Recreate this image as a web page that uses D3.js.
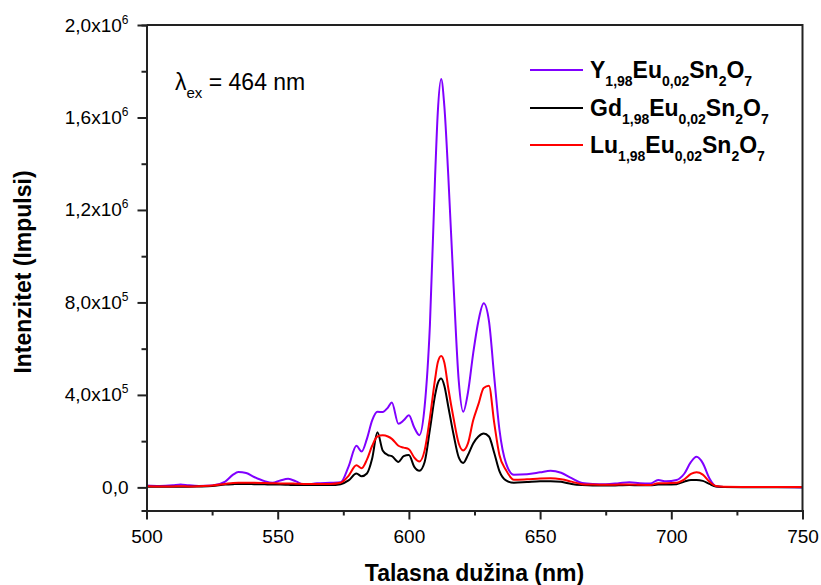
<!DOCTYPE html>
<html><head><meta charset="utf-8">
<script src="https://cdn.jsdelivr.net/npm/d3@7"></script>
<style>body{margin:0;background:#fff} svg{display:block;font-family:Arial,"Liberation Sans",sans-serif}</style>
</head><body>
<svg id="c" width="821" height="585"></svg>
<script>
// Wavelength grid (nm)
const wavelength = [500,505,510,513,516,520,525,530,533,535,538,541,545,548,551,554,557,560,565,570,574,577,580,582,584,586,588,590,592,593.5,596,598,600,602,604,606,608,610,611,612.3,613.5,615,617,619,620.7,622.5,624.5,626.5,628.5,630.5,632.5,634.5,637,640,645,650,654,658,662,666,670,675,680,684,688,692,695,698,702,705,707.5,709.6,712,714.5,717,720,730,740,750];
// Intensities (impulses)
const yEuSn = [8000,6000,9000,13000,9000,6000,8000,25000,55000,66000,62000,45000,27000,20000,30000,37000,26000,12000,18000,20000,22000,90000,180000,155000,210000,290000,327000,326000,345000,367000,275000,290000,312000,260000,226000,350000,700000,1350000,1620000,1766000,1650000,1350000,880000,460000,327000,410000,580000,720000,796000,720000,480000,250000,105000,55000,57000,65000,72000,63000,40000,19000,15000,14000,18000,22000,18000,17000,32000,26000,32000,60000,110000,132000,105000,40000,5000,2000,2000,2000,0];
const gdEuSn = [3000,3000,3000,3000,3000,4000,6000,12000,14000,15000,15000,14000,13000,12000,12000,11000,10000,10000,10000,10000,14000,30000,60000,48000,60000,125000,238000,160000,140000,135000,110000,135000,140000,90000,72000,110000,250000,400000,450000,471000,440000,350000,230000,130000,106000,140000,190000,220000,233000,220000,150000,70000,30000,20000,23000,26000,27000,24000,15000,10000,8000,8000,9000,10000,9000,9000,12000,12000,14000,25000,32000,32000,28000,15000,4000,2000,1000,1000,1000];
const luEuSn = [5000,4000,4000,5000,4000,5000,8000,15000,19000,20000,20000,20000,19000,18000,17000,17000,16000,15000,15000,15000,20000,50000,96000,83000,120000,180000,220000,225000,220000,210000,180000,172000,165000,130000,112000,160000,300000,470000,540000,568000,540000,430000,300000,190000,160000,190000,290000,360000,430000,440000,280000,140000,75000,33000,35000,38000,39000,35000,25000,14000,12000,11000,12000,13000,11000,10000,18000,18000,20000,35000,58000,65000,55000,25000,6000,3000,2000,2000,2000];

const xTicks = [500,550,600,650,700,750];
const xMinorTicks = [525,575,625,675,725];
const yTicks = [0,4e5,8e5,1.2e6,1.6e6,2.0e6];
const yTickMantissa = ["0,0","4,0x10","8,0x10","1,2x10","1,6x10","2,0x10"];
const yTickExponent = ["","5","5","6","6","6"];
const yMinorTicks = [2e5,6e5,1.0e6,1.4e6,1.8e6];

const legendLabels = [
  [["Y",0],["1,98",1],["Eu",0],["0,02",1],["Sn",0],["2",1],["O",0],["7",1]],
  [["Gd",0],["1,98",1],["Eu",0],["0,02",1],["Sn",0],["2",1],["O",0],["7",1]],
  [["Lu",0],["1,98",1],["Eu",0],["0,02",1],["Sn",0],["2",1],["O",0],["7",1]]
];
const seriesData = [yEuSn, gdEuSn, luEuSn];
const colors = ["#8000FF","#000000","#FF0000"];

const L = 146.5, R = 802.5, T = 25, B = 510.5;
const svg = d3.select("#c");
const x = d3.scaleLinear().domain([500,750]).range([L,R]);
const y = d3.scaleLinear().domain([-1e5,2.0e6]).range([B,T]);

svg.append("clipPath").attr("id","clip").append("rect")
  .attr("x",L).attr("y",T).attr("width",R-L).attr("height",B-T);

const line = d3.line().x((d,i)=>x(wavelength[i])).y(d=>y(d)).curve(d3.curveMonotoneX);
const g = svg.append("g").attr("clip-path","url(#clip)");
seriesData.forEach((s,k)=>{
  g.append("path").datum(s).attr("d",line).attr("fill","none")
    .attr("stroke",colors[k]).attr("stroke-width",2).attr("stroke-linejoin","round");
});

// frame
svg.append("path").attr("d",`M${L},${T}H${R}V${B}`).attr("fill","none").attr("stroke","#222").attr("stroke-width",2);

// x axis
const xAx = svg.append("g").attr("transform",`translate(0,${B})`)
  .call(d3.axisBottom(x).tickValues(xTicks).tickSize(9).tickSizeOuter(0).tickFormat(d3.format("d")).tickPadding(10));
xAx.append("g").call(d3.axisBottom(x).tickValues(xMinorTicks).tickSize(5).tickFormat(""));
xAx.selectAll("path.domain").attr("stroke","#222").attr("stroke-width",2);
xAx.selectAll("line").attr("stroke","#222").attr("stroke-width",2);
xAx.selectAll(".tick text").attr("font-size",19).attr("fill","#000").attr("font-family","Arial,'Liberation Sans',sans-serif").attr("dy","0.71em");

// y axis
const yAx = svg.append("g").attr("transform",`translate(${L},0)`)
  .call(d3.axisLeft(y).tickValues(yTicks).tickSize(9).tickSizeOuter(0).tickFormat(""));
yAx.append("g").call(d3.axisLeft(y).tickValues(yMinorTicks).tickSize(5).tickFormat(""));
yAx.selectAll("path.domain").attr("stroke","#222").attr("stroke-width",2);
yAx.selectAll("line").attr("stroke","#222").attr("stroke-width",2);
yTicks.forEach((v,i)=>{
  const t = svg.append("text").attr("x",L-18).attr("y",y(v)+6.5).attr("text-anchor","end")
    .attr("font-size",19).attr("fill","#000");
  t.append("tspan").text(yTickMantissa[i]);
  if (yTickExponent[i]) t.append("tspan").attr("dy",-8).attr("font-size",12).text(yTickExponent[i]);
});

// axis titles
svg.append("text").attr("x",(L+R)/2).attr("y",581).attr("text-anchor","middle")
  .attr("font-size",23).attr("font-weight","bold").text("Talasna dužina (nm)");
svg.append("text").attr("transform","translate(31,272) rotate(-90)").attr("text-anchor","middle")
  .attr("font-size",23).attr("font-weight","bold").text("Intenzitet (Impulsi)");

// excitation label
const ex = svg.append("text").attr("x",175).attr("y",90).attr("font-size",23).attr("fill","#000");
ex.append("tspan").text("λ");
ex.append("tspan").attr("dy",8).attr("font-size",15).text("ex");
ex.append("tspan").attr("dy",-8).text(" = 464 nm");

// legend
const legY = [70,108,145];
legendLabels.forEach((parts,k)=>{
  svg.append("line").attr("x1",530).attr("x2",583).attr("y1",legY[k]).attr("y2",legY[k])
    .attr("stroke",colors[k]).attr("stroke-width",2);
  const t = svg.append("text").attr("x",590).attr("y",legY[k]+8).attr("font-size",23).attr("font-weight","bold");
  let cur = 0;
  parts.forEach(([s,sub])=>{
    const target = sub ? 8 : 0;
    t.append("tspan").attr("dy",target-cur).attr("font-size",sub?14:23).text(s);
    cur = target;
  });
});
</script>
</body></html>
